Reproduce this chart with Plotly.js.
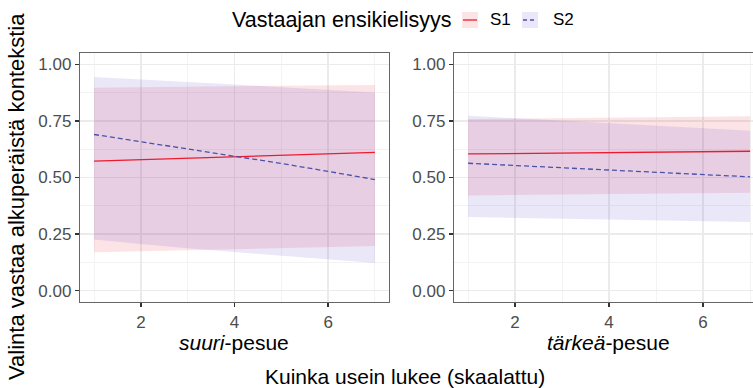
<!DOCTYPE html>
<html>
<head>
<meta charset="utf-8">
<script src="https://cdn.plot.ly/plotly-3.0.1.min.js"></script>
<style>html,body{margin:0;padding:0;background:#fff;}#chart{width:753px;height:388px;}</style>
</head>
<body>
<div id="chart"></div>
<script>
// ---- data ----
const xs = [1, 2, 3, 4, 5, 6, 7];
const panels = ["suuri", "tärkeä"];
const seriesNames = ["S1", "S2"];
const legendTitle = "Vastaajan ensikielisyys";
const xTitle = "Kuinka usein lukee (skaalattu)";
const yTitle = "Valinta vastaa alkuperäistä kontekstia";
const yTickVals = [0, 0.25, 0.5, 0.75, 1];
const yTickText = ["0.00", "0.25", "0.50", "0.75", "1.00"];
const xTickVals = [2, 4, 6];

const suuriS1Fit = [0.572, 0.579, 0.585, 0.592, 0.598, 0.605, 0.611];
const suuriS1Lo  = [0.170, 0.175, 0.180, 0.185, 0.189, 0.193, 0.197];
const suuriS1Hi  = [0.897, 0.899, 0.901, 0.903, 0.905, 0.907, 0.909];
const suuriS2Fit = [0.690, 0.658, 0.627, 0.595, 0.562, 0.527, 0.491];
const suuriS2Lo  = [0.226, 0.206, 0.187, 0.170, 0.154, 0.138, 0.122];
const suuriS2Hi  = [0.944, 0.934, 0.922, 0.911, 0.899, 0.887, 0.875];

const tarkeaS1Fit = [0.604, 0.606, 0.608, 0.610, 0.612, 0.614, 0.616];
const tarkeaS1Lo  = [0.421, 0.423, 0.425, 0.427, 0.429, 0.431, 0.433];
const tarkeaS1Hi  = [0.758, 0.760, 0.762, 0.765, 0.767, 0.769, 0.771];
const tarkeaS2Fit = [0.563, 0.553, 0.543, 0.533, 0.523, 0.513, 0.503];
const tarkeaS2Lo  = [0.326, 0.322, 0.318, 0.315, 0.311, 0.307, 0.303];
const tarkeaS2Hi  = [0.773, 0.762, 0.751, 0.740, 0.729, 0.718, 0.707];

// ---- styling ----
const FONT = "Liberation Sans, Arial, Helvetica, sans-serif";
const W = 753, H = 388;
const M = {l: 80, r: 0, t: 53, b: 86};
const PW = W - M.l - M.r, PH = H - M.t - M.b;
const px = x => (x - M.l) / PW;
const py = y => (H - M.b - y) / PH;

const col = {
  S1: {line: "#ec1c2e", fill: "rgba(235,40,60,0.13)"},
  S2: {line: "#4a52ad", fill: "rgba(80,60,200,0.12)"}
};

function ribbon(lo, hi, s, xa, ya) {
  return {
    x: xs.concat(xs.slice().reverse()),
    y: hi.concat(lo.slice().reverse()),
    xaxis: xa, yaxis: ya, type: "scatter", mode: "lines",
    fill: "toself", fillcolor: col[s].fill, line: {width: 0},
    hoverinfo: "skip", showlegend: false
  };
}
function fitLine(fit, s, xa, ya) {
  return {
    x: xs, y: fit, xaxis: xa, yaxis: ya, type: "scatter", mode: "lines",
    line: {color: col[s].line, width: 1.3, dash: s === "S2" ? "5px,3px" : "solid"},
    showlegend: false
  };
}

const data = [
  ribbon(suuriS1Lo, suuriS1Hi, "S1", "x", "y"),
  ribbon(suuriS2Lo, suuriS2Hi, "S2", "x", "y"),
  fitLine(suuriS1Fit, "S1", "x", "y"),
  fitLine(suuriS2Fit, "S2", "x", "y"),
  ribbon(tarkeaS1Lo, tarkeaS1Hi, "S1", "x2", "y2"),
  ribbon(tarkeaS2Lo, tarkeaS2Hi, "S2", "x2", "y2"),
  fitLine(tarkeaS1Fit, "S1", "x2", "y2"),
  fitLine(tarkeaS2Fit, "S2", "x2", "y2")
];

const gridMajor = "#ebebeb", gridMinor = "#f3f3f3";
function xAxis(domain, range, anchor) {
  return {
    domain: domain, range: range, anchor: anchor,
    tickmode: "array", tickvals: xTickVals,
    ticks: "outside", ticklen: 4, tickwidth: 1.3, tickcolor: "#333",
    tickfont: {family: FONT, size: 17, color: "#4d4d4d"},
    showgrid: true, gridcolor: gridMajor, gridwidth: 1.4,
    minor: {tickmode: "array", tickvals: [1, 3, 5, 7], showgrid: true, gridcolor: gridMinor, gridwidth: 1, ticks: ""},
    showline: true, linecolor: "#666", linewidth: 1.2, mirror: true,
    zeroline: false, fixedrange: true
  };
}
function yAxis(anchor, mirror) {
  return {
    domain: [0, 1], range: [-0.05, 1.05], anchor: anchor,
    tickmode: "array", tickvals: yTickVals, ticktext: yTickText,
    ticks: "outside", ticklen: 4, tickwidth: 1.3, tickcolor: "#333",
    tickfont: {family: FONT, size: 17, color: "#4d4d4d"},
    showgrid: true, gridcolor: gridMajor, gridwidth: 1.4,
    minor: {tickmode: "array", tickvals: [0.125, 0.375, 0.625, 0.875], showgrid: true, gridcolor: gridMinor, gridwidth: 1, ticks: ""},
    showline: true, linecolor: "#666", linewidth: 1.2, mirror: mirror,
    zeroline: false, fixedrange: true
  };
}

const leftDom = [0, px(389)];
const rightDom = [px(454), 1];
// right panel is clipped by the picture edge: x=7 sits at ~750px
const rightRange = [0.7, 0.7 + (753 - 454) / 47];

const annotations = [
  {text: legendTitle, x: px(230), y: py(20), xanchor: "left", yanchor: "middle",
   xref: "paper", yref: "paper", showarrow: false, font: {family: FONT, size: 21.5, color: "#000"}},
  {text: seriesNames[0], x: px(488), y: py(20), xanchor: "left", yanchor: "middle",
   xref: "paper", yref: "paper", showarrow: false, font: {family: FONT, size: 17, color: "#000"}},
  {text: seriesNames[1], x: px(551), y: py(20), xanchor: "left", yanchor: "middle",
   xref: "paper", yref: "paper", showarrow: false, font: {family: FONT, size: 17, color: "#000"}},
  {text: "<i>" + panels[0] + "</i>-pesue", x: px(234), y: py(342), xanchor: "center", yanchor: "middle",
   xref: "paper", yref: "paper", showarrow: false, font: {family: FONT, size: 21, color: "#000"}},
  {text: "<i>" + panels[1] + "</i>-pesue", x: px(608), y: py(342), xanchor: "center", yanchor: "middle",
   xref: "paper", yref: "paper", showarrow: false, font: {family: FONT, size: 21, color: "#000"}},
  {text: xTitle, x: px(405), y: py(376), xanchor: "center", yanchor: "middle",
   xref: "paper", yref: "paper", showarrow: false, font: {family: FONT, size: 21, color: "#000"}},
  {text: yTitle, x: px(16), y: py(197), xanchor: "center", yanchor: "middle", textangle: -90,
   xref: "paper", yref: "paper", showarrow: false, font: {family: FONT, size: 22, color: "#000"}}
];

const shapes = [
  {type: "rect", xref: "paper", yref: "paper", x0: px(462), x1: px(478), y0: py(28), y1: py(12),
   fillcolor: col.S1.fill, line: {width: 0}},
  {type: "line", xref: "paper", yref: "paper", x0: px(463), x1: px(477), y0: py(20), y1: py(20),
   line: {color: col.S1.line, width: 1.3}},
  {type: "rect", xref: "paper", yref: "paper", x0: px(522), x1: px(538), y0: py(28), y1: py(12),
   fillcolor: col.S2.fill, line: {width: 0}},
  {type: "line", xref: "paper", yref: "paper", x0: px(523), x1: px(537), y0: py(20), y1: py(20),
   line: {color: col.S2.line, width: 1.3, dash: "4px,3px"}}
];

const layout = {
  width: W, height: H, margin: M,
  paper_bgcolor: "#fff", plot_bgcolor: "#fff",
  showlegend: false,
  xaxis: xAxis(leftDom, [0.7, 7.3], "y"),
  yaxis: yAxis("x", true),
  xaxis2: xAxis(rightDom, rightRange, "y2"),
  yaxis2: yAxis("x2", false),
  annotations: annotations,
  shapes: shapes,
  font: {family: FONT}
};

Plotly.newPlot("chart", data, layout, {displayModeBar: false, staticPlot: true});
</script>
</body>
</html>
